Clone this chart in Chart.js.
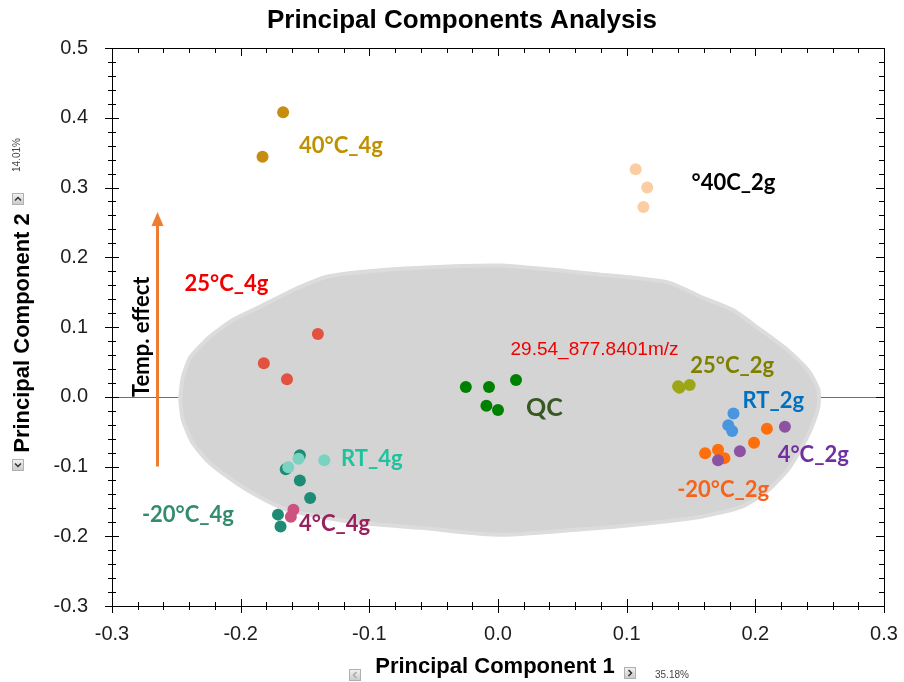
<!DOCTYPE html>
<html>
<head>
<meta charset="utf-8">
<script src="https://cdn.jsdelivr.net/npm/chart.js@4.4.1/dist/chart.umd.min.js"></script>
<style>
  html, body { margin: 0; padding: 0; background: #fff; }
  #wrap { width: 904px; height: 682px; position: relative; }
</style>
</head>
<body>
<div id="wrap"><canvas id="pca"></canvas></div>
<script>
// scores per sample group (PC1, PC2)
const pc1_40C4g = [-0.167, -0.183]
const pc2_40C4g = [0.408, 0.344]
const pc1_40C2g = [0.107, 0.116, 0.113]
const pc2_40C2g = [0.326, 0.300, 0.272]
const pc1_25C4g = [-0.140, -0.182, -0.164]
const pc2_25C4g = [0.090, 0.048, 0.025]
const pc1_QC = [-0.025, -0.007, 0.014, -0.009, 0.000]
const pc2_QC = [0.014, 0.014, 0.024, -0.013, -0.019]
const pc1_25C2g = [0.140, 0.149, 0.141]
const pc2_25C2g = [0.015, 0.017, 0.013]
const pc1_RT2g = [0.183, 0.179, 0.182]
const pc2_RT2g = [-0.024, -0.041, -0.049]
const pc1_m20C2g = [0.161, 0.171, 0.176, 0.199, 0.209]
const pc2_m20C2g = [-0.081, -0.076, -0.088, -0.066, -0.046]
const pc1_4C2g = [0.171, 0.188, 0.223]
const pc2_4C2g = [-0.091, -0.078, -0.043]
const pc1_m20C4g = [-0.154, -0.165, -0.154, -0.146, -0.171, -0.169]
const pc2_m20C4g = [-0.084, -0.104, -0.120, -0.145, -0.169, -0.186]
const pc1_RT4g = [-0.135, -0.155, -0.163]
const pc2_RT4g = [-0.091, -0.089, -0.101]
const pc1_4C4g = [-0.161, -0.159]
const pc2_4C4g = [-0.172, -0.162]

// outline of the grey loadings cloud
const contornoPc1 = [-0.247, -0.245, -0.239, -0.224, -0.206, -0.185, -0.159, -0.133, -0.107, -0.060, 0.002, 0.080, 0.132, 0.158, 0.183, 0.204, 0.225, 0.241, 0.249, 0.249, 0.243, 0.235, 0.225, 0.210, 0.189, 0.158, 0.119, 0.080, 0.002, -0.060, -0.107, -0.138, -0.164, -0.185, -0.203, -0.224, -0.237, -0.245]
const contornoPc2 = [-0.002, 0.028, 0.057, 0.086, 0.110, 0.129, 0.153, 0.172, 0.179, 0.185, 0.188, 0.175, 0.164, 0.143, 0.124, 0.096, 0.067, 0.038, 0.010, -0.014, -0.047, -0.076, -0.105, -0.134, -0.158, -0.172, -0.181, -0.188, -0.198, -0.188, -0.181, -0.172, -0.162, -0.144, -0.124, -0.095, -0.067, -0.033]

const xTicks = [-0.3, -0.2, -0.1, 0.0, 0.1, 0.2, 0.3]
const yTicks = [-0.3, -0.2, -0.1, 0.0, 0.1, 0.2, 0.3, 0.4, 0.5]

// drawing order: later groups on top
const grupos = [
    ['40°C_4g', pc1_40C4g, pc2_40C4g],
    ['40C_2g', pc1_40C2g, pc2_40C2g],
    ['25°C_4g', pc1_25C4g, pc2_25C4g],
    ['QC', pc1_QC, pc2_QC],
    ['25°C_2g', pc1_25C2g, pc2_25C2g],
    ['RT_2g', pc1_RT2g, pc2_RT2g],
    ['-20°C_2g', pc1_m20C2g, pc2_m20C2g],
    ['4°C_2g', pc1_4C2g, pc2_4C2g],
    ['-20°C_4g', pc1_m20C4g, pc2_m20C4g],
    ['RT_4g', pc1_RT4g, pc2_RT4g],
    ['4°C_4g', pc1_4C4g, pc2_4C4g]
]

const coresPontos = {
    '40°C_4g': 'rgb(200,140,14)',
    '40C_2g': 'rgb(250,206,162)',
    '25°C_4g': 'rgb(226,82,62)',
    'QC': 'rgb(0,128,0)',
    '25°C_2g': 'rgb(156,166,22)',
    'RT_2g': 'rgb(72,150,224)',
    '-20°C_2g': 'rgb(255,110,12)',
    '4°C_2g': 'rgb(142,82,162)',
    '-20°C_4g': 'rgb(30,140,116)',
    'RT_4g': 'rgb(122,210,192)',
    '4°C_4g': 'rgb(206,82,128)'
}

// text annotations, anchored in data units
const rotulos = [
    { texto: '40°C_4g', x: -0.122, y: 0.360, cor: 'rgb(191,144,0)', tam: 22 },
    { texto: '°40C_2g', x: 0.183, y: 0.306, cor: '#000', tam: 22 },
    { texto: '25°C_4g', x: -0.211, y: 0.162, cor: 'rgb(240,0,0)', tam: 22 },
    { texto: '25°C_2g', x: 0.182, y: 0.044, cor: 'rgb(128,128,0)', tam: 22 },
    { texto: 'QC', x: 0.036, y: -0.016, cor: 'rgb(56,87,35)', tam: 25 },
    { texto: 'RT_2g', x: 0.214, y: -0.006, cor: 'rgb(0,112,192)', tam: 22 },
    { texto: 'RT_4g', x: -0.098, y: -0.089, cor: 'rgb(28,196,158)', tam: 22 },
    { texto: '4°C_2g', x: 0.245, y: -0.084, cor: 'rgb(112,48,160)', tam: 22 },
    { texto: '-20°C_2g', x: 0.175, y: -0.134, cor: 'rgb(244,100,28)', tam: 22 },
    { texto: '-20°C_4g', x: -0.241, y: -0.170, cor: 'rgb(52,140,110)', tam: 22 },
    { texto: '4°C_4g', x: -0.127, y: -0.182, cor: 'rgb(152,32,92)', tam: 22 }
]

const fmt = v => Math.abs(v) < 1e-9 ? '0.0' : v.toFixed(1)

const ctx = document.getElementById('pca')

const datasets = [{
    label: 'loadings',
    data: contornoPc1.concat(contornoPc1[0]).map((x, i) => ({ x, y: contornoPc2.concat(contornoPc2[0])[i] })),
    showLine: true,
    fill: 'shape',
    tension: 0.2,
    backgroundColor: 'rgb(212,212,212)',
    borderColor: 'rgb(220,220,220)',
    borderWidth: 4,
    pointRadius: 0,
    order: 100
}]

grupos.forEach(([nome, xs, ys], i) => {
    datasets.push({
        label: nome,
        data: xs.map((x, k) => ({ x, y: ys[k] })),
        backgroundColor: coresPontos[nome],
        borderWidth: 0,
        pointRadius: 6,
        pointHoverRadius: 6,
        order: grupos.length - i
    })
})

const chevron = (c, x, y, dir, ativo) => {
    c.save()
    const g = c.createLinearGradient(0, y - 6, 0, y + 6)
    g.addColorStop(0, '#f4f4f4')
    g.addColorStop(1, '#c8c8c8')
    c.fillStyle = g
    c.fillRect(x - 6, y - 6, 12, 12)
    c.strokeStyle = '#b0b0b0'
    c.strokeRect(x - 5.5, y - 5.5, 11, 11)
    c.strokeStyle = ativo ? '#333' : '#aaa'
    c.lineWidth = 1.5
    c.beginPath()
    if (dir == 'up') { c.moveTo(x - 3, y + 1.5); c.lineTo(x, y - 1.5); c.lineTo(x + 3, y + 1.5) }
    if (dir == 'down') { c.moveTo(x - 3, y - 1.5); c.lineTo(x, y + 1.5); c.lineTo(x + 3, y - 1.5) }
    if (dir == 'left') { c.moveTo(x + 1.5, y - 3); c.lineTo(x - 1.5, y); c.lineTo(x + 1.5, y + 3) }
    if (dir == 'right') { c.moveTo(x - 1.5, y - 3); c.lineTo(x + 1.5, y); c.lineTo(x - 1.5, y + 3) }
    c.stroke()
    c.restore()
}

const moldura = {
    id: 'moldura',
    beforeDatasetsDraw(chart) {
        const { ctx: c, chartArea: a, scales: { y } } = chart
        const y0 = Math.round(y.getPixelForValue(0)) + 0.5
        c.save()
        c.strokeStyle = '#707070'
        c.lineWidth = 1
        c.beginPath()
        c.moveTo(a.left, y0)
        c.lineTo(a.right, y0)
        c.stroke()
        c.restore()
    },
    afterDatasetsDraw(chart) {
        const { ctx: c, scales: { x, y } } = chart
        c.save()
        c.textAlign = 'center'
        c.textBaseline = 'middle'
        rotulos.forEach(r => {
            c.font = `bold ${r.tam}px Lato`
            c.fillStyle = r.cor
            c.fillText(r.texto, x.getPixelForValue(r.x), y.getPixelForValue(r.y))
        })
        // feature name inside the cloud
        c.font = '19px "Liberation Sans"'
        c.fillStyle = 'rgb(240,0,0)'
        c.fillText('29.54_877.8401m/z', x.getPixelForValue(0.075), y.getPixelForValue(0.067))

        // temperature arrow
        const ax = Math.round(x.getPixelForValue(-0.265)) + 0.5
        const yb = y.getPixelForValue(-0.100)
        const yt = y.getPixelForValue(0.265)
        c.strokeStyle = '#ED7D31'
        c.fillStyle = '#ED7D31'
        c.lineWidth = 3
        c.beginPath()
        c.moveTo(ax, yb)
        c.lineTo(ax, yt + 12)
        c.stroke()
        c.beginPath()
        c.moveTo(ax, yt)
        c.lineTo(ax - 6, yt + 14)
        c.lineTo(ax + 6, yt + 14)
        c.closePath()
        c.fill()

        c.save()
        c.translate(x.getPixelForValue(-0.277), y.getPixelForValue(0.086))
        c.rotate(-Math.PI / 2)
        c.font = 'bold 22px Lato'
        c.fillStyle = '#000'
        c.fillText('Temp. effect', 0, 0)
        c.restore()
        c.restore()
    },
    afterDraw(chart) {
        const { ctx: c, chartArea: a, scales: { x, y } } = chart
        c.save()
        c.strokeStyle = '#000'
        c.lineWidth = 1
        // top and right frame
        c.beginPath()
        c.moveTo(a.left, a.top + 0.5)
        c.lineTo(a.right + 0.5, a.top + 0.5)
        c.lineTo(a.right + 0.5, a.bottom)
        c.stroke()

        c.beginPath()
        for (let k = -15; k <= 15; k++) {
            const maior = k % 5 === 0
            const px = Math.round(x.getPixelForValue(k * 0.02)) + 0.5
            const t = maior ? 7 : 4
            c.moveTo(px, a.bottom - t)
            c.lineTo(px, a.bottom + t)
            c.moveTo(px, a.top)
            c.lineTo(px, a.top + (maior ? 8 : 5))
        }
        for (let k = -15; k <= 25; k++) {
            const maior = k % 5 === 0
            const py = Math.round(y.getPixelForValue(k * 0.02)) + 0.5
            const t = maior ? 7 : 4
            c.moveTo(a.left - t, py)
            c.lineTo(a.left + t, py)
            c.moveTo(a.right, py)
            c.lineTo(a.right - (maior ? 8 : 5), py)
        }
        c.stroke()

        // titles
        c.fillStyle = '#000'
        c.textAlign = 'center'
        c.textBaseline = 'middle'
        c.font = 'bold 26px "Liberation Sans"'
        c.fillText('Principal Components Analysis', 462, 21)
        c.font = 'bold 22px "Liberation Sans"'
        c.fillText('Principal Component 1', 495, 667)
        c.save()
        c.translate(23, 333)
        c.rotate(-Math.PI / 2)
        c.fillText('Principal Component 2', 0, 0)
        c.restore()

        c.font = '10px "Liberation Sans"'
        c.fillStyle = '#444'
        c.textAlign = 'left'
        c.fillText('35.18%', 655, 675)
        c.save()
        c.translate(17, 172)
        c.rotate(-Math.PI / 2)
        c.fillText('14.01%', 0, 0)
        c.restore()

        chevron(c, 18, 199, 'up', true)
        chevron(c, 18, 465, 'down', true)
        chevron(c, 355, 675, 'left', false)
        chevron(c, 630, 673, 'right', true)
        c.restore()
    }
}

new Chart(ctx, {
    type: 'scatter',
    data: { datasets },
    options: {
        responsive: true,
        maintainAspectRatio: false,
        animation: false,
        events: [],
        layout: { padding: { top: 48, right: 20, bottom: 0, left: 0 } },
        plugins: {
            legend: { display: false },
            tooltip: { enabled: false }
        },
        scales: {
            x: {
                type: 'linear',
                position: 'bottom',
                min: xTicks[0],
                max: xTicks[xTicks.length - 1],
                afterFit: s => {
                    s.height = 76
                    s.paddingLeft = 0
                    s.paddingRight = 0
                },
                afterBuildTicks: s => { s.ticks = xTicks.map(v => ({ value: v })) },
                grid: { display: false, drawTicks: false },
                border: { display: true, color: '#000', width: 1 },
                ticks: {
                    padding: 16,
                    autoSkip: false,
                    maxRotation: 0,
                    color: '#1e1e1e',
                    font: { family: 'Liberation Sans', size: 20 },
                    callback: v => fmt(v)
                }
            },
            y: {
                type: 'linear',
                min: yTicks[0],
                max: yTicks[yTicks.length - 1],
                afterFit: s => {
                    s.width = 112
                    s.paddingTop = 0
                    s.paddingBottom = 0
                },
                afterBuildTicks: s => { s.ticks = yTicks.map(v => ({ value: v })) },
                grid: { display: false, drawTicks: false },
                border: { display: true, color: '#000', width: 1 },
                ticks: {
                    padding: 24,
                    autoSkip: false,
                    color: '#1e1e1e',
                    font: { family: 'Liberation Sans', size: 20 },
                    callback: v => fmt(v)
                }
            }
        }
    },
    plugins: [moldura]
})
</script>
</body>
</html>
